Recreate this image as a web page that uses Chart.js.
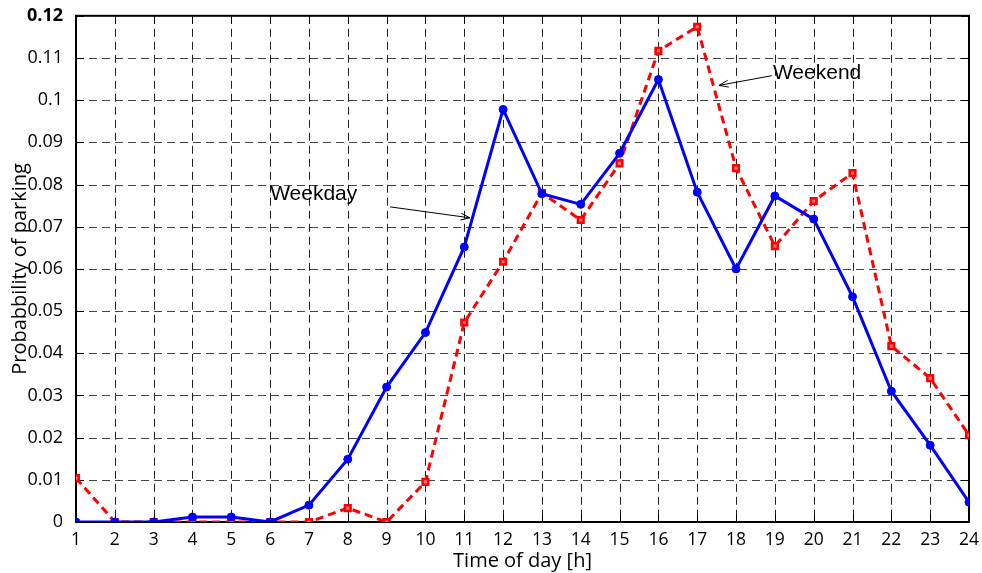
<!DOCTYPE html>
<html><head><meta charset="utf-8">
<script src="https://cdn.jsdelivr.net/npm/chart.js@4/dist/chart.umd.min.js"></script>
<style>html,body{margin:0;padding:0;background:#fff}#wrap{width:982px;height:573px;position:relative}</style>
</head><body><div id="wrap"><canvas id="c" width="982" height="573"></canvas></div>
<script>
const hours = [1,2,3,4,5,6,7,8,9,10,11,12,13,14,15,16,17,18,19,20,21,22,23,24];
const weekday = [0,0,0,0.0012,0.0012,0,0.004,0.0149,0.032,0.0449,0.0652,0.0978,0.0778,0.0753,0.0874,0.1049,0.0782,0.0600,0.0773,0.0718,0.0534,0.0310,0.0182,0.0047];
const weekend = [0.0104,0,0,0,0,0,0,0.0033,0,0.0095,0.0473,0.0617,0.0780,0.0716,0.0850,0.1117,0.1174,0.0839,0.0654,0.0761,0.0827,0.0417,0.0341,0.0206];
const yTicks = [0,0.01,0.02,0.03,0.04,0.05,0.06,0.07,0.08,0.09,0.1,0.11,0.12];
const notes = [
  {text:'Weekday', tx:6.0, ty:0.0777, ax0:9.09, ay0:0.0747, ax1:11.15, ay1:0.0721},
  {text:'Weekend', tx:18.95, ty:0.1063, ax0:18.92, ay0:0.1058, ax1:17.56, ay1:0.1035}
];

const frame = {
  id:'frame',
  beforeDatasetsDraw(chart){
    const {ctx, chartArea:a, scales:{x,y}} = chart;
    ctx.save();
    ctx.strokeStyle='#222'; ctx.lineWidth=1; ctx.setLineDash([8,5]);
    hours.forEach(h=>{ if(h===1||h===24) return; const px=Math.round(x.getPixelForValue(h))+0.5; ctx.beginPath(); ctx.moveTo(px,a.top); ctx.lineTo(px,a.bottom); ctx.stroke();});
    ctx.strokeStyle='#444';
    yTicks.forEach(v=>{ if(v===0||v===0.12) return; const py=Math.round(y.getPixelForValue(v))+0.5; ctx.beginPath(); ctx.moveTo(a.left,py); ctx.lineTo(a.right,py); ctx.stroke();});
    ctx.setLineDash([]); ctx.strokeStyle='#000';
    hours.forEach(h=>{ const px=Math.round(x.getPixelForValue(h))+0.5; ctx.beginPath(); ctx.moveTo(px,a.bottom); ctx.lineTo(px,a.bottom-8); ctx.moveTo(px,a.top); ctx.lineTo(px,a.top+8); ctx.stroke();});
    yTicks.forEach(v=>{ const py=Math.round(y.getPixelForValue(v))+0.5; ctx.beginPath(); ctx.moveTo(a.left,py); ctx.lineTo(a.left+8,py); ctx.moveTo(a.right,py); ctx.lineTo(a.right-8,py); ctx.stroke();});
    ctx.lineWidth=2;
    ctx.strokeRect(a.left, a.top, a.right-a.left, a.bottom-a.top);
    ctx.restore();
  },
  afterDatasetsDraw(chart){
    const {ctx, scales:{x,y}} = chart;
    ctx.save();
    ctx.fillStyle='#000'; ctx.strokeStyle='#000'; ctx.lineWidth=1;
    ctx.font='21px "Liberation Sans", Arial, sans-serif';
    ctx.textBaseline='middle'; ctx.textAlign='left';
    notes.forEach(n=>{
      ctx.fillText(n.text, x.getPixelForValue(n.tx), y.getPixelForValue(n.ty));
      const x0=x.getPixelForValue(n.ax0), y0=y.getPixelForValue(n.ay0);
      const x1=x.getPixelForValue(n.ax1), y1=y.getPixelForValue(n.ay1);
      ctx.beginPath(); ctx.moveTo(x0,y0); ctx.lineTo(x1,y1); ctx.stroke();
      const ang=Math.atan2(y1-y0,x1-x0), L=10, w=0.35;
      ctx.beginPath();
      ctx.moveTo(x1,y1);
      ctx.lineTo(x1-L*Math.cos(ang-w), y1-L*Math.sin(ang-w));
      ctx.moveTo(x1,y1);
      ctx.lineTo(x1-L*Math.cos(ang+w), y1-L*Math.sin(ang+w));
      ctx.stroke();
    });
    ctx.restore();
  }
};

const tickFont = '"Open Sans", "Noto Sans", sans-serif';
new Chart(document.getElementById('c'), {
  type:'line',
  data:{ datasets:[
    {label:'Weekday', data:hours.map((h,i)=>({x:h,y:weekday[i]})), borderColor:'#0000ff', backgroundColor:'#0000ff', borderWidth:3, pointStyle:'circle', pointRadius:4, pointBorderWidth:1, tension:0},
    {label:'Weekend', data:hours.map((h,i)=>({x:h,y:weekend[i]})), borderColor:'#ff0000', backgroundColor:'#ff7070', borderWidth:3, borderDash:[8,5], pointStyle:'rect', pointRadius:4, pointBorderWidth:2.5, tension:0}
  ]},
  options:{
    responsive:false, animation:false, devicePixelRatio:1,
    layout:{padding:{left:0,right:13,top:14,bottom:0}},
    plugins:{legend:{display:false}, tooltip:{enabled:false}},
    scales:{
      x:{type:'linear', min:1, max:24,
        afterBuildTicks(s){ s.ticks = hours.map(v=>({value:v})); },
        afterFit(s){ s.height=51; },
        grid:{display:false}, border:{display:false},
        ticks:{color:'#000', padding:0, maxRotation:0, autoSkip:false, font:{family:tickFont, size:17.5}, callback:v=>String(v)},
        title:{display:true, text:'Time of day [h]', color:'#000', padding:{top:-6,bottom:0}, font:{family:tickFont, size:20}}
      },
      y:{min:0, max:0.12,
        afterBuildTicks(s){ s.ticks = yTicks.map(v=>({value:v})); },
        afterFit(s){ s.width=76; },
        grid:{display:false}, border:{display:false},
        ticks:{color:'#000', padding:5, font:(c)=>({family:tickFont, size:18, weight:(c.tick&&c.tick.value===0.12)?'bold':'normal'}), callback:v=>String(Math.round(v*100)/100)},
        title:{display:true, text:'Probabbility of parking', color:'#000', padding:{top:8,bottom:0}, font:{family:tickFont, size:20}}
      }
    }
  },
  plugins:[frame]
});
</script></body></html>
